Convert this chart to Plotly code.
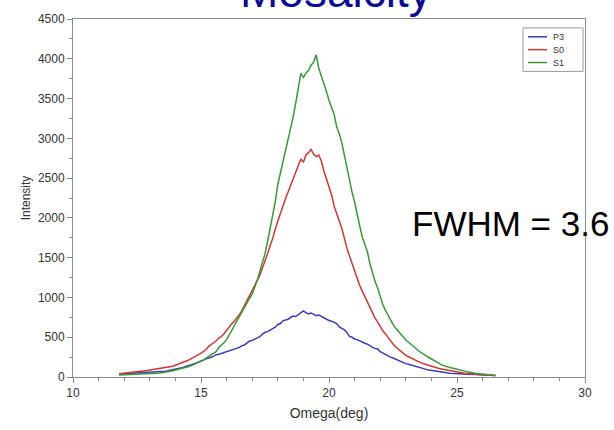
import numpy as np
import plotly.graph_objects as go

# Omega scan: 0.1 deg steps from 11.8 to 26.5 deg
omega_start = 11.8
omega_step = 0.1

p3 = [
    37, 39, 38, 41, 40, 43, 45, 44, 47, 49,
    50, 53, 55, 54, 58, 62, 66, 70, 73, 78,
    84, 92, 100, 106, 113, 120, 132, 140, 149, 160,
    172, 188, 205, 212, 228, 236, 248, 262, 280, 286,
    296, 308, 322, 334, 340, 352, 361, 372, 395, 402,
    428, 452, 460, 474, 488, 506, 540, 562, 570, 588,
    600, 626, 660, 672, 705, 712, 726, 748, 767, 760,
    786, 812, 830, 808, 792, 805, 786, 770, 778, 760,
    742, 728, 710, 702, 688, 672, 630, 610, 592, 560,
    510, 500, 478, 470, 452, 440, 425, 414, 390, 372,
    360, 352, 320, 300, 288, 262, 250, 238, 222, 210,
    196, 182, 168, 160, 150, 138, 128, 120, 112, 104,
    96, 88, 82, 74, 68, 62, 58, 55, 52, 48,
    46, 45, 43, 41, 40, 38, 36, 34, 33, 32,
    30, 29, 27, 26, 25, 23, 21, 20,
]

s0 = [
    41, 44, 48, 50, 54, 57, 60, 64, 68, 72,
    76, 82, 87, 92, 96, 104, 108, 112, 118, 124,
    128, 134, 148, 160, 172, 180, 196, 210, 228, 245,
    262, 275, 300, 322, 345, 385, 405, 428, 455, 490,
    510, 545, 590, 632, 668, 700, 740, 785, 838, 900,
    960, 1030, 1090, 1140, 1210, 1280, 1370, 1450, 1550, 1650,
    1740, 1860, 1960, 2076, 2150, 2240, 2324, 2420, 2486, 2590,
    2670, 2740, 2700, 2790, 2820, 2862, 2800, 2770, 2790, 2715,
    2590, 2490, 2400, 2290, 2150, 2040, 1960, 1870, 1740, 1620,
    1520, 1420, 1330, 1240, 1150, 1080, 1010, 950, 870, 810,
    740, 690, 625, 580, 545, 500, 450, 415, 380, 350,
    320, 300, 272, 255, 238, 220, 205, 192, 178, 166,
    155, 146, 136, 128, 120, 108, 102, 95, 88, 80,
    74, 68, 62, 58, 53, 48, 44, 40, 36, 33,
    31, 29, 27, 25, 24, 22, 21, 20,
]

s1 = [
    25, 26, 28, 27, 29, 30, 31, 32, 33, 34,
    35, 36, 37, 40, 42, 46, 50, 55, 58, 62,
    70, 78, 88, 95, 104, 112, 122, 130, 142, 155,
    168, 185, 200, 215, 238, 260, 280, 295, 322, 375,
    400, 430, 470, 530, 584, 630, 690, 750, 820, 880,
    940, 990, 1040, 1120, 1220, 1330, 1440, 1550, 1700, 1865,
    2050, 2200, 2420, 2560, 2697, 2820, 2960, 3108, 3270, 3443,
    3640, 3816, 3766, 3820, 3853, 3920, 3957, 4050, 3880, 3790,
    3700, 3590, 3480, 3380, 3300, 3145, 3060, 2946, 2780, 2610,
    2480, 2324, 2200, 2030, 1900, 1760, 1657, 1575, 1420, 1300,
    1200, 1119, 1000, 911, 840, 780, 715, 662, 615, 575,
    535, 500, 465, 440, 410, 385, 360, 330, 305, 290,
    265, 245, 225, 205, 185, 166, 152, 140, 128, 118,
    112, 106, 100, 90, 82, 74, 66, 58, 52, 48,
    44, 40, 36, 32, 28, 25, 22, 20,
]

omega = np.round(omega_start + omega_step * np.arange(len(p3)), 2)

series = [("P3", p3, "#3b3bb8"), ("S0", s0, "#cc3838"), ("S1", s1, "#379a37")]

# plot-area geometry in pixels, used to place the legend and labels
W, H = 614, 430
L, R, T, B = 73, 29, 18, 50
pw, ph = W - L - R, H - T - B


def px_x(px):
    return (px - L) / pw


def px_y(py):
    return (H - B - py) / ph


fig = go.Figure()
for name, vals, color in series:
    fig.add_trace(go.Scatter(x=omega, y=vals, mode="lines", name=name,
                             showlegend=False,
                             line=dict(color=color, width=1.5)))

axis_common = dict(
    showline=True, linecolor="#8a8a8a", linewidth=1, mirror=True,
    ticks="outside", tickcolor="#8a8a8a", ticklen=5, tickwidth=1,
    showgrid=False, zeroline=False,
    tickfont=dict(family="Liberation Sans, Arial", size=12, color="#333333"),
)

fig.update_layout(
    width=W, height=H,
    margin=dict(l=L, r=R, t=T, b=B),
    paper_bgcolor="white", plot_bgcolor="white",
    font=dict(family="Liberation Sans, Arial", color="#333333"),
    xaxis=dict(range=[10, 30], tick0=10, dtick=5,
               minor=dict(dtick=1, ticks="outside", ticklen=3, tickcolor="#8a8a8a"),
               title=dict(text="Omega(deg)", font=dict(size=14, color="#333333"), standoff=8),
               **axis_common),
    yaxis=dict(range=[0, 4500], tick0=0, dtick=500,
               minor=dict(dtick=250, ticks="outside", ticklen=3, tickcolor="#8a8a8a"),
               title=dict(text="Intensity", font=dict(size=12, color="#333333"), standoff=4),
               **axis_common),
    showlegend=False,
)

# compact legend box in the top-right corner
fig.add_shape(type="rect", xref="paper", yref="paper",
              x0=px_x(523), x1=px_x(583), y0=px_y(71), y1=px_y(27),
              line=dict(color="#9a9a9a", width=1), fillcolor="white", layer="above")
for i, (name, _, color) in enumerate(series):
    yy = 36 + 13 * i
    fig.add_shape(type="line", xref="paper", yref="paper",
                  x0=px_x(528), x1=px_x(547), y0=px_y(yy), y1=px_y(yy),
                  line=dict(color=color, width=1.5), layer="above")
    fig.add_annotation(text=name, xref="paper", yref="paper",
                       x=px_x(551), y=px_y(yy), xanchor="left", yanchor="middle",
                       showarrow=False,
                       font=dict(family="Liberation Sans, Arial", size=9, color="#333333"))

fig.add_annotation(text="Mosaicity", xref="paper", yref="paper",
                   x=0.513, y=px_y(-10), xanchor="center", yanchor="middle",
                   showarrow=False,
                   font=dict(family="Liberation Sans, Arial", size=46, color="#0a0a96"))

fig.add_annotation(text="FWHM = 3.6", xref="paper", yref="paper",
                   x=px_x(410), y=px_y(225),
                   xanchor="left", yanchor="middle", showarrow=False,
                   font=dict(family="Liberation Sans, Arial", size=35, color="black"))

fig.write_html("out.html")
